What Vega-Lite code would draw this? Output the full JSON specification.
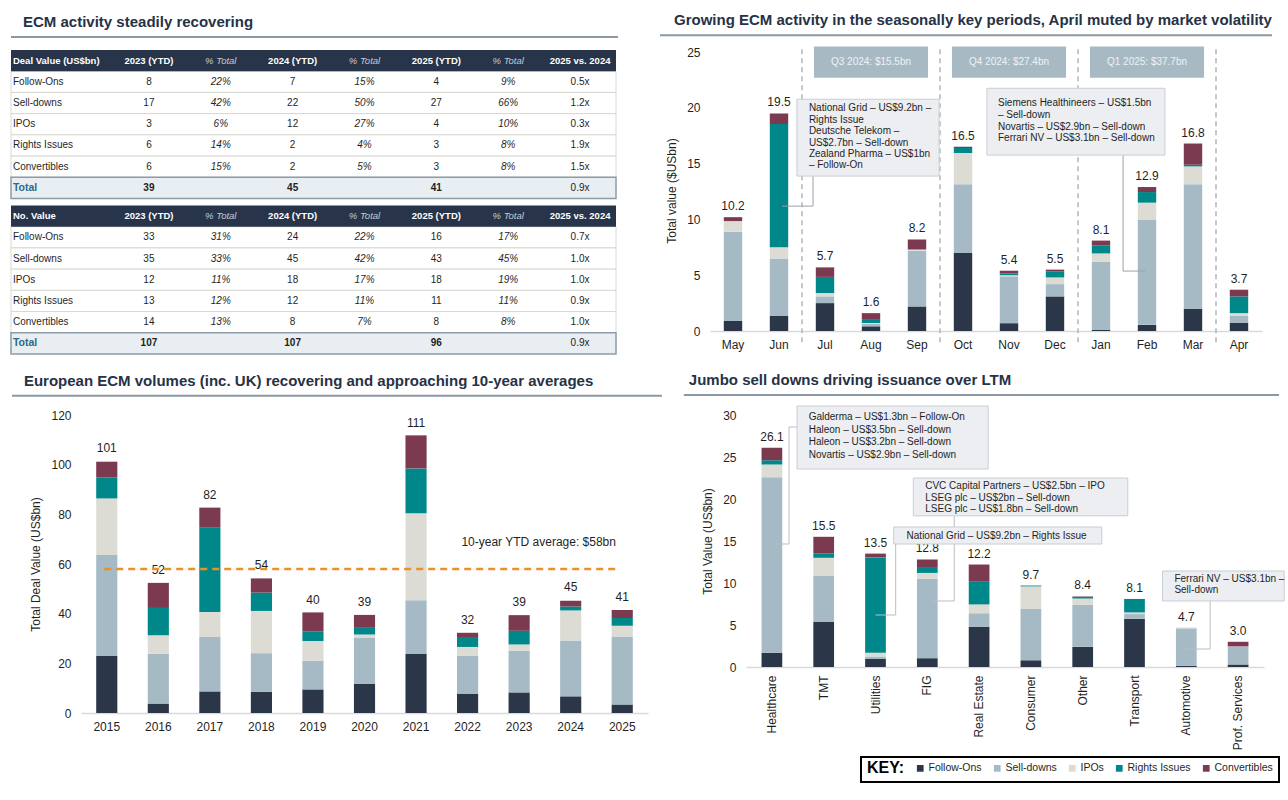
{
"$schema": "https://vega.github.io/schema/vega-lite/v6.json",
"background": "#ffffff",
"padding": {"left": 10, "top": 13, "right": 0, "bottom": 0},
"config": {
  "font": "Liberation Sans",
  "view": {"stroke": null},
  "title": {"fontSize": 15, "fontWeight": "bold", "color": "#263246", "anchor": "start", "offset": 6},
  "axis": {"labelFontSize": 12, "labelColor": "#1f1f1f", "titleFontSize": 12, "titleFontWeight": "normal", "titleColor": "#1f1f1f", "grid": false, "ticks": false, "domain": false, "labelPadding": 10},
  "axisX": {"domain": true, "domainColor": "#d9d9d9", "domainWidth": 1.5, "labelAngle": 0, "labelPadding": 8},
  "legend": {"strokeWidth": 2}
},
"datasets": {
  "types": [{"type": "Follow-Ons", "rank": 1}, {"type": "Sell-downs", "rank": 2}, {"type": "IPOs", "rank": 3}, {"type": "Rights Issues", "rank": 4}, {"type": "Convertibles", "rank": 5}],
  "table": [
    {"t": "t1", "r": "h", "name": "Deal Value (US$bn)", "y23": "2023 (YTD)", "p23": "% Total", "y24": "2024 (YTD)", "p24": "% Total", "y25": "2025 (YTD)", "p25": "% Total", "vs": "2025 vs. 2024"},
    {"t": "t1", "r": "Follow-Ons", "name": "Follow-Ons", "y23": "8", "p23": "22%", "y24": "7", "p24": "15%", "y25": "4", "p25": "9%", "vs": "0.5x"},
    {"t": "t1", "r": "Sell-downs", "name": "Sell-downs", "y23": "17", "p23": "42%", "y24": "22", "p24": "50%", "y25": "27", "p25": "66%", "vs": "1.2x"},
    {"t": "t1", "r": "IPOs", "name": "IPOs", "y23": "3", "p23": "6%", "y24": "12", "p24": "27%", "y25": "4", "p25": "10%", "vs": "0.3x"},
    {"t": "t1", "r": "Rights Issues", "name": "Rights Issues", "y23": "6", "p23": "14%", "y24": "2", "p24": "4%", "y25": "3", "p25": "8%", "vs": "1.9x"},
    {"t": "t1", "r": "Convertibles", "name": "Convertibles", "y23": "6", "p23": "15%", "y24": "2", "p24": "5%", "y25": "3", "p25": "8%", "vs": "1.5x"},
    {"t": "t1", "r": "Total", "name": "Total", "y23": "39", "p23": "", "y24": "45", "p24": "", "y25": "41", "p25": "", "vs": "0.9x"},
    {"t": "t2", "r": "h", "name": "No. Value", "y23": "2023 (YTD)", "p23": "% Total", "y24": "2024 (YTD)", "p24": "% Total", "y25": "2025 (YTD)", "p25": "% Total", "vs": "2025 vs. 2024"},
    {"t": "t2", "r": "Follow-Ons", "name": "Follow-Ons", "y23": "33", "p23": "31%", "y24": "24", "p24": "22%", "y25": "16", "p25": "17%", "vs": "0.7x"},
    {"t": "t2", "r": "Sell-downs", "name": "Sell-downs", "y23": "35", "p23": "33%", "y24": "45", "p24": "42%", "y25": "43", "p25": "45%", "vs": "1.0x"},
    {"t": "t2", "r": "IPOs", "name": "IPOs", "y23": "12", "p23": "11%", "y24": "18", "p24": "17%", "y25": "18", "p25": "19%", "vs": "1.0x"},
    {"t": "t2", "r": "Rights Issues", "name": "Rights Issues", "y23": "13", "p23": "12%", "y24": "12", "p24": "11%", "y25": "11", "p25": "11%", "vs": "0.9x"},
    {"t": "t2", "r": "Convertibles", "name": "Convertibles", "y23": "14", "p23": "13%", "y24": "8", "p24": "7%", "y25": "8", "p25": "8%", "vs": "1.0x"},
    {"t": "t2", "r": "Total", "name": "Total", "y23": "107", "p23": "", "y24": "107", "p24": "", "y25": "96", "p25": "", "vs": "0.9x"}
  ],
  "monthly": [
    {"m": "May", "total": 10.2, "Follow-Ons": 0.9, "Sell-downs": 8.0, "IPOs": 0.95, "Rights Issues": 0, "Convertibles": 0.35},
    {"m": "Jun", "total": 19.5, "Follow-Ons": 1.35, "Sell-downs": 5.15, "IPOs": 1.0, "Rights Issues": 11.05, "Convertibles": 0.95},
    {"m": "Jul", "total": 5.7, "Follow-Ons": 2.5, "Sell-downs": 0.6, "IPOs": 0.3, "Rights Issues": 1.45, "Convertibles": 0.85},
    {"m": "Aug", "total": 1.6, "Follow-Ons": 0.42, "Sell-downs": 0.24, "IPOs": 0.06, "Rights Issues": 0.28, "Convertibles": 0.6},
    {"m": "Sep", "total": 8.2, "Follow-Ons": 2.2, "Sell-downs": 5.0, "IPOs": 0.1, "Rights Issues": 0, "Convertibles": 0.9},
    {"m": "Oct", "total": 16.5, "Follow-Ons": 7.0, "Sell-downs": 6.15, "IPOs": 2.8, "Rights Issues": 0.45, "Convertibles": 0.1},
    {"m": "Nov", "total": 5.4, "Follow-Ons": 0.7, "Sell-downs": 4.2, "IPOs": 0.1, "Rights Issues": 0.15, "Convertibles": 0.25},
    {"m": "Dec", "total": 5.5, "Follow-Ons": 3.1, "Sell-downs": 1.1, "IPOs": 0.6, "Rights Issues": 0.55, "Convertibles": 0.15},
    {"m": "Jan", "total": 8.1, "Follow-Ons": 0.1, "Sell-downs": 6.1, "IPOs": 0.75, "Rights Issues": 0.7, "Convertibles": 0.45},
    {"m": "Feb", "total": 12.9, "Follow-Ons": 0.55, "Sell-downs": 9.4, "IPOs": 1.55, "Rights Issues": 0.95, "Convertibles": 0.45},
    {"m": "Mar", "total": 16.8, "Follow-Ons": 2.0, "Sell-downs": 11.15, "IPOs": 1.6, "Rights Issues": 0.15, "Convertibles": 1.9},
    {"m": "Apr", "total": 3.7, "Follow-Ons": 0.75, "Sell-downs": 0.6, "IPOs": 0.25, "Rights Issues": 1.5, "Convertibles": 0.6}
  ],
  "quarters": [
    {"q": "Q3 2024: $15.5bn", "m1": "Jul", "m2": "Aug", "m3": "Sep"},
    {"q": "Q4 2024: $27.4bn", "m1": "Oct", "m2": "Nov", "m3": "Dec"},
    {"q": "Q1 2025: $37.7bn", "m1": "Jan", "m2": "Feb", "m3": "Mar"}
  ],
  "annual": [
    {"yr": "2015", "total": 101, "Follow-Ons": 23, "Sell-downs": 40.6, "IPOs": 22.8, "Rights Issues": 8.4, "Convertibles": 6.4},
    {"yr": "2016", "total": 52, "Follow-Ons": 3.8, "Sell-downs": 20, "IPOs": 7.5, "Rights Issues": 11, "Convertibles": 10.1},
    {"yr": "2017", "total": 82, "Follow-Ons": 8.7, "Sell-downs": 21.9, "IPOs": 10.1, "Rights Issues": 33.9, "Convertibles": 8.1},
    {"yr": "2018", "total": 54, "Follow-Ons": 8.5, "Sell-downs": 15.6, "IPOs": 17, "Rights Issues": 7.4, "Convertibles": 5.7},
    {"yr": "2019", "total": 40, "Follow-Ons": 9.5, "Sell-downs": 11.6, "IPOs": 7.9, "Rights Issues": 3.9, "Convertibles": 7.6},
    {"yr": "2020", "total": 39, "Follow-Ons": 11.8, "Sell-downs": 18.6, "IPOs": 1.2, "Rights Issues": 2.7, "Convertibles": 5.2},
    {"yr": "2021", "total": 111, "Follow-Ons": 23.8, "Sell-downs": 21.6, "IPOs": 35, "Rights Issues": 18.1, "Convertibles": 13.3},
    {"yr": "2022", "total": 32, "Follow-Ons": 7.8, "Sell-downs": 15.2, "IPOs": 3.6, "Rights Issues": 4.0, "Convertibles": 1.7},
    {"yr": "2023", "total": 39, "Follow-Ons": 8.3, "Sell-downs": 16.8, "IPOs": 2.5, "Rights Issues": 5.5, "Convertibles": 6.3},
    {"yr": "2024", "total": 45, "Follow-Ons": 6.7, "Sell-downs": 22.5, "IPOs": 12.1, "Rights Issues": 1.6, "Convertibles": 2.3},
    {"yr": "2025", "total": 41, "Follow-Ons": 3.4, "Sell-downs": 27.4, "IPOs": 4.3, "Rights Issues": 3.2, "Convertibles": 3.2}
  ],
  "sector": [
    {"s": "Healthcare", "total": 26.1, "Follow-Ons": 1.7, "Sell-downs": 20.9, "IPOs": 1.5, "Rights Issues": 0.5, "Convertibles": 1.5},
    {"s": "TMT", "total": 15.5, "Follow-Ons": 5.35, "Sell-downs": 5.55, "IPOs": 2.1, "Rights Issues": 0.5, "Convertibles": 2.0},
    {"s": "Utilities", "total": 13.5, "Follow-Ons": 0.95, "Sell-downs": 0.3, "IPOs": 0.45, "Rights Issues": 11.35, "Convertibles": 0.45},
    {"s": "FIG", "total": 12.8, "Follow-Ons": 1.05, "Sell-downs": 9.45, "IPOs": 0.7, "Rights Issues": 0.6, "Convertibles": 1.0},
    {"s": "Real Estate", "total": 12.2, "Follow-Ons": 4.8, "Sell-downs": 1.6, "IPOs": 1.05, "Rights Issues": 2.7, "Convertibles": 2.05},
    {"s": "Consumer", "total": 9.7, "Follow-Ons": 0.8, "Sell-downs": 6.1, "IPOs": 2.7, "Rights Issues": 0.1, "Convertibles": 0},
    {"s": "Other", "total": 8.4, "Follow-Ons": 2.4, "Sell-downs": 5.0, "IPOs": 0.75, "Rights Issues": 0.2, "Convertibles": 0.05},
    {"s": "Transport", "total": 8.1, "Follow-Ons": 5.75, "Sell-downs": 0.55, "IPOs": 0.2, "Rights Issues": 1.6, "Convertibles": 0},
    {"s": "Automotive", "total": 4.7, "Follow-Ons": 0.15, "Sell-downs": 4.45, "IPOs": 0.1, "Rights Issues": 0, "Convertibles": 0},
    {"s": "Prof. Services", "total": 3.0, "Follow-Ons": 0.3, "Sell-downs": 2.1, "IPOs": 0.05, "Rights Issues": 0, "Convertibles": 0.55}
  ]
},
"concat": [
  {"concat": [
    {
      "title": {"text": "ECM activity steadily recovering", "frame": "bounds", "dx": 13},
      "width": 535, "height": 304,
      "data": {"name": "table"},
      "layer": [
        {"transform": [{"filter": {"field": "r", "oneOf": ["Follow-Ons", "Sell-downs", "IPOs", "Rights Issues", "Convertibles"]}}],
         "mark": {"type": "rect", "fill": "#ffffff", "stroke": "#d8d8d2", "strokeWidth": 1},
         "encoding": {
           "x": {"datum": "y23", "bandPosition": -1.4195, "type": "nominal", "scale": {"type": "band", "domain": ["y23", "p23", "y24", "p24", "y25", "p25", "vs"], "paddingInner": 0, "paddingOuter": 0.2227, "align": 1}, "axis": null},
           "x2": {"datum": "vs", "bandPosition": 1},
           "y": {"field": "t", "type": "nominal", "scale": {"domain": ["t1", "t2"], "paddingInner": 0.045, "paddingOuter": 0}, "axis": null},
           "yOffset": {"field": "r", "type": "nominal", "scale": {"domain": ["h", "Follow-Ons", "Sell-downs", "IPOs", "Rights Issues", "Convertibles", "Total"], "paddingInner": 0, "paddingOuter": 0}}}},
        {"transform": [{"filter": {"field": "r", "equal": "h"}}],
         "mark": {"type": "rect", "fill": "#27344a"},
         "encoding": {"x": {"datum": "y23", "bandPosition": -1.4195}, "x2": {"datum": "vs", "bandPosition": 1}, "y": {"field": "t", "type": "nominal"}, "yOffset": {"field": "r", "type": "nominal"}}},
        {"transform": [{"filter": {"field": "r", "equal": "Total"}}],
         "mark": {"type": "rect", "fill": "#e8eef1", "stroke": "#8d9ca8", "strokeWidth": 1.5},
         "encoding": {"x": {"datum": "y23", "bandPosition": -1.4195}, "x2": {"datum": "vs", "bandPosition": 1}, "y": {"field": "t", "type": "nominal"}, "yOffset": {"field": "r", "type": "nominal"}}},
        {"data": {"values": [{}]},
         "mark": {"type": "rule", "color": "#8c99a5", "strokeWidth": 2},
         "encoding": {"x": {"datum": "y23", "bandPosition": -1.4195}, "x2": {"datum": "vs", "bandPosition": 1.028}, "y": {"datum": "t1", "bandPosition": -0.0875}}},
        {"transform": [{"filter": {"field": "r", "equal": "h"}}],
         "mark": {"type": "text", "align": "left", "baseline": "middle", "fontSize": 9.5, "fontWeight": "bold", "color": "#ffffff"},
         "encoding": {"x": {"datum": "y23", "bandPosition": -1.392}, "y": {"field": "t", "type": "nominal"}, "yOffset": {"field": "r", "type": "nominal"}, "text": {"field": "name"}}},
        {"transform": [{"filter": {"field": "r", "oneOf": ["Follow-Ons", "Sell-downs", "IPOs", "Rights Issues", "Convertibles"]}}],
         "mark": {"type": "text", "align": "left", "baseline": "middle", "fontSize": 10, "color": "#1f1f1f"},
         "encoding": {"x": {"datum": "y23", "bandPosition": -1.392}, "y": {"field": "t", "type": "nominal"}, "yOffset": {"field": "r", "type": "nominal"}, "text": {"field": "name"}}},
        {"transform": [{"filter": {"field": "r", "equal": "Total"}}],
         "mark": {"type": "text", "align": "left", "baseline": "middle", "fontSize": 10.5, "fontWeight": "bold", "color": "#2b6a8a"},
         "encoding": {"x": {"datum": "y23", "bandPosition": -1.392}, "y": {"field": "t", "type": "nominal"}, "yOffset": {"field": "r", "type": "nominal"}, "text": {"field": "name"}}},
        {"transform": [{"fold": ["y23", "p23", "y24", "p24", "y25", "p25", "vs"], "as": ["c", "txt"]}, {"filter": {"and": [{"field": "r", "equal": "h"}, {"field": "c", "oneOf": ["y23", "y24", "y25", "vs"]}]}}],
         "mark": {"type": "text", "align": "center", "baseline": "middle", "fontSize": 9.5, "fontWeight": "bold", "color": "#ffffff"},
         "encoding": {"x": {"field": "c", "type": "nominal"}, "y": {"field": "t", "type": "nominal"}, "yOffset": {"field": "r", "type": "nominal"}, "text": {"field": "txt"}}},
        {"transform": [{"fold": ["y23", "p23", "y24", "p24", "y25", "p25", "vs"], "as": ["c", "txt"]}, {"filter": {"and": [{"field": "r", "equal": "h"}, {"field": "c", "oneOf": ["p23", "p24", "p25"]}]}}],
         "mark": {"type": "text", "align": "center", "baseline": "middle", "fontSize": 9.5, "fontStyle": "italic", "color": "#c3ccd5"},
         "encoding": {"x": {"field": "c", "type": "nominal"}, "y": {"field": "t", "type": "nominal"}, "yOffset": {"field": "r", "type": "nominal"}, "text": {"field": "txt"}}},
        {"transform": [{"fold": ["y23", "p23", "y24", "p24", "y25", "p25", "vs"], "as": ["c", "txt"]}, {"filter": {"and": [{"field": "r", "oneOf": ["Follow-Ons", "Sell-downs", "IPOs", "Rights Issues", "Convertibles"]}, {"field": "c", "oneOf": ["y23", "y24", "y25", "vs"]}]}}],
         "mark": {"type": "text", "align": "center", "baseline": "middle", "fontSize": 10, "color": "#1f1f1f"},
         "encoding": {"x": {"field": "c", "type": "nominal"}, "y": {"field": "t", "type": "nominal"}, "yOffset": {"field": "r", "type": "nominal"}, "text": {"field": "txt"}}},
        {"transform": [{"fold": ["y23", "p23", "y24", "p24", "y25", "p25", "vs"], "as": ["c", "txt"]}, {"filter": {"and": [{"field": "r", "oneOf": ["Follow-Ons", "Sell-downs", "IPOs", "Rights Issues", "Convertibles"]}, {"field": "c", "oneOf": ["p23", "p24", "p25"]}]}}],
         "mark": {"type": "text", "align": "center", "baseline": "middle", "fontSize": 10, "fontStyle": "italic", "color": "#1f1f1f"},
         "encoding": {"x": {"field": "c", "type": "nominal"}, "y": {"field": "t", "type": "nominal"}, "yOffset": {"field": "r", "type": "nominal"}, "text": {"field": "txt"}}},
        {"transform": [{"fold": ["y23", "p23", "y24", "p24", "y25", "p25", "vs"], "as": ["c", "txt"]}, {"filter": {"and": [{"field": "r", "equal": "Total"}, {"field": "c", "oneOf": ["y23", "y24", "y25"]}]}}],
         "mark": {"type": "text", "align": "center", "baseline": "middle", "fontSize": 10, "fontWeight": "bold", "color": "#1f1f1f"},
         "encoding": {"x": {"field": "c", "type": "nominal"}, "y": {"field": "t", "type": "nominal"}, "yOffset": {"field": "r", "type": "nominal"}, "text": {"field": "txt"}}},
        {"transform": [{"fold": ["y23", "p23", "y24", "p24", "y25", "p25", "vs"], "as": ["c", "txt"]}, {"filter": {"and": [{"field": "r", "equal": "Total"}, {"field": "c", "equal": "vs"}]}}],
         "mark": {"type": "text", "align": "center", "baseline": "middle", "fontSize": 10, "color": "#1f1f1f"},
         "encoding": {"x": {"field": "c", "type": "nominal"}, "y": {"field": "t", "type": "nominal"}, "yOffset": {"field": "r", "type": "nominal"}, "text": {"field": "txt"}}}
      ]
    },
    {
      "title": {"text": "Growing ECM activity in the seasonally key periods, April muted by market volatility", "frame": "bounds", "dx": 15},
      "width": 552, "height": 281,
      "data": {"name": "monthly"},
      "layer": [
        {"transform": [{"fold": ["Follow-Ons", "Sell-downs", "IPOs", "Rights Issues", "Convertibles"], "as": ["type", "value"]}, {"lookup": "type", "from": {"data": {"name": "types"}, "key": "type", "fields": ["rank"]}}],
         "mark": {"type": "bar", "width": {"band": 0.4}},
         "encoding": {
           "x": {"field": "m", "type": "nominal", "scale": {"domain": ["May", "Jun", "Jul", "Aug", "Sep", "Oct", "Nov", "Dec", "Jan", "Feb", "Mar", "Apr"], "paddingInner": 0, "paddingOuter": 0}, "axis": {"title": null}},
           "y": {"field": "value", "type": "quantitative", "stack": "zero", "scale": {"domain": [0, 25.18], "nice": false}, "axis": {"values": [0, 5, 10, 15, 20, 25], "title": "Total value ($USbn)", "titlePadding": 8}},
           "color": {"field": "type", "type": "nominal", "scale": {"domain": ["Follow-Ons", "Sell-downs", "IPOs", "Rights Issues", "Convertibles"], "range": ["#2b3648", "#a5bac5", "#dcdcd5", "#00878a", "#7b3a4f"]},
             "legend": {"title": "KEY:", "orient": "none", "legendX": 780, "legendY": 707, "direction": "horizontal", "titleOrient": "left", "titleFontSize": 16, "titleFontWeight": "bold", "titleColor": "#000000", "titlePadding": 10, "symbolType": "square", "symbolSize": 45, "symbolStrokeWidth": 0, "labelFontSize": 10.5, "labelColor": "#1f1f1f", "labelOffset": 3, "columnPadding": 10, "strokeColor": "#000000", "padding": 6, "fillColor": "#ffffff"}},
           "order": {"field": "rank", "type": "quantitative"}}},
        {"mark": {"type": "text", "baseline": "bottom", "dy": -4, "fontSize": 12, "color": "#1f1f1f"},
         "encoding": {"x": {"field": "m", "type": "nominal"}, "y": {"field": "total", "type": "quantitative"}, "text": {"field": "total", "type": "quantitative", "format": ".1f"}}},
        {"data": {"values": [{}]}, "mark": {"type": "rule", "color": "#8c99a5", "strokeWidth": 2},
         "encoding": {"x": {"datum": "May", "bandPosition": -1.087}, "x2": {"datum": "Apr", "bandPosition": 1.217}, "y": {"datum": 26.5}}},
        {"data": {"values": [{"m": "Jul"}, {"m": "Oct"}, {"m": "Jan"}, {"m": "Apr"}]},
         "mark": {"type": "rule", "color": "#b5b5b5", "strokeWidth": 1.5, "strokeDash": [5, 4]},
         "encoding": {"x": {"field": "m", "type": "nominal", "bandPosition": 0}, "y": {"datum": -1.0}, "y2": {"datum": 25.6}}},
        {"data": {"name": "quarters"}, "mark": {"type": "rect", "fill": "#a7bac4"},
         "encoding": {"x": {"field": "m1", "type": "nominal", "bandPosition": 0.26}, "x2": {"field": "m3", "bandPosition": 0.74}, "y": {"datum": 22.7}, "y2": {"datum": 25.5}}},
        {"data": {"name": "quarters"}, "mark": {"type": "text", "fontSize": 10, "color": "#eef2f5", "baseline": "middle"},
         "encoding": {"x": {"field": "m2", "type": "nominal"}, "y": {"datum": 24.1}, "text": {"field": "q"}}},
        {"data": {"values": [{}]}, "mark": {"type": "rule", "color": "#9aa3ab", "strokeWidth": 1},
         "encoding": {"x": {"datum": "Jul", "bandPosition": 0.24}, "y": {"datum": 13.88}, "y2": {"datum": 11.19}}},
        {"data": {"values": [{}]}, "mark": {"type": "rule", "color": "#9aa3ab", "strokeWidth": 1},
         "encoding": {"x": {"datum": "Jun", "bandPosition": 0.565}, "x2": {"datum": "Jul", "bandPosition": 0.24}, "y": {"datum": 11.19}}},
        {"data": {"values": [{}]}, "mark": {"type": "rule", "color": "#9aa3ab", "strokeWidth": 1},
         "encoding": {"x": {"datum": "Jan", "bandPosition": 0.98}, "y": {"datum": 15.76}, "y2": {"datum": 5.37}}},
        {"data": {"values": [{}]}, "mark": {"type": "rule", "color": "#9aa3ab", "strokeWidth": 1},
         "encoding": {"x": {"datum": "Jan", "bandPosition": 0.98}, "x2": {"datum": "Feb", "bandPosition": 0.46}, "y": {"datum": 5.37}}},
        {"data": {"values": [{}]}, "mark": {"type": "rect", "fill": "#eceef1", "stroke": "#c9ced4", "strokeWidth": 1},
         "encoding": {"x": {"datum": "Jun", "bandPosition": 0.89}, "x2": {"datum": "Sep", "bandPosition": 0.98}, "y": {"datum": 20.77}, "y2": {"datum": 13.88}}},
        {"data": {"values": [{}]}, "mark": {"type": "text", "align": "left", "baseline": "top", "fontSize": 10, "lineHeight": 11.4, "color": "#1f1f1f"},
         "encoding": {"x": {"datum": "Jun", "bandPosition": 1.15}, "y": {"datum": 20.4}, "text": {"value": ["National Grid – US$9.2bn –", "Rights Issue", "Deutsche Telekom –", "US$2.7bn – Sell-down", "Zealand Pharma – US$1bn", "– Follow-On"]}}},
        {"data": {"values": [{}]}, "mark": {"type": "rect", "fill": "#eceef1", "stroke": "#c9ced4", "strokeWidth": 1},
         "encoding": {"x": {"datum": "Nov", "bandPosition": 0.02}, "x2": {"datum": "Feb", "bandPosition": 0.89}, "y": {"datum": 21.75}, "y2": {"datum": 15.76}}},
        {"data": {"values": [{}]}, "mark": {"type": "text", "align": "left", "baseline": "top", "fontSize": 10, "lineHeight": 11.7, "color": "#1f1f1f"},
         "encoding": {"x": {"datum": "Nov", "bandPosition": 0.26}, "y": {"datum": 20.86}, "text": {"value": ["Siemens Healthineers – US$1.5bn", "– Sell-down", "Novartis – US$2.9bn – Sell-down", "Ferrari NV – US$3.1bn – Sell-down"]}}}
      ]
    }
  ], "columns": 2, "align": "none", "spacing": 38},
  {"concat": [
    {
      "title": {"text": "European ECM volumes (inc. UK) recovering and approaching 10-year averages", "frame": "bounds", "dx": 13},
      "width": 567, "height": 298,
      "data": {"name": "annual"},
      "layer": [
        {"transform": [{"fold": ["Follow-Ons", "Sell-downs", "IPOs", "Rights Issues", "Convertibles"], "as": ["type", "value"]}, {"lookup": "type", "from": {"data": {"name": "types"}, "key": "type", "fields": ["rank"]}}],
         "mark": {"type": "bar", "width": {"band": 0.41}},
         "encoding": {
           "x": {"field": "yr", "type": "nominal", "scale": {"domain": ["2015", "2016", "2017", "2018", "2019", "2020", "2021", "2022", "2023", "2024", "2025"], "paddingInner": 0, "paddingOuter": 0}, "axis": {"title": null}},
           "y": {"field": "value", "type": "quantitative", "stack": "zero", "scale": {"domain": [0, 120], "nice": false}, "axis": {"values": [0, 20, 40, 60, 80, 100, 120], "title": "Total Deal Value (US$bn)", "titlePadding": 8}},
           "color": {"field": "type", "type": "nominal", "scale": {"domain": ["Follow-Ons", "Sell-downs", "IPOs", "Rights Issues", "Convertibles"], "range": ["#2b3648", "#a5bac5", "#dcdcd5", "#00878a", "#7b3a4f"]}},
           "order": {"field": "rank", "type": "quantitative"}}},
        {"mark": {"type": "text", "baseline": "bottom", "dy": -7, "fontSize": 12, "color": "#1f1f1f"},
         "encoding": {"x": {"field": "yr", "type": "nominal"}, "y": {"field": "total", "type": "quantitative"}, "text": {"field": "total", "type": "quantitative", "format": "d"}}},
        {"data": {"values": [{}]}, "mark": {"type": "rule", "color": "#e8902a", "strokeWidth": 2.5, "strokeDash": [7, 5]},
         "encoding": {"x": {"datum": "2015", "bandPosition": 0.45}, "x2": {"datum": "2025", "bandPosition": 0.45}, "y": {"datum": 58}}},
        {"data": {"values": [{}]}, "mark": {"type": "text", "align": "left", "baseline": "middle", "fontSize": 12, "color": "#1f1f1f"},
         "encoding": {"x": {"datum": "2022", "bandPosition": 0.38}, "y": {"datum": 68.9}, "text": {"value": "10-year YTD average: $58bn"}}},
        {"data": {"values": [{}]}, "mark": {"type": "rule", "color": "#8c99a5", "strokeWidth": 2},
         "encoding": {"x": {"datum": "2015", "bandPosition": -1.34}, "x2": {"datum": "2025", "bandPosition": 1.27}, "y": {"datum": 127.8}}}
      ]
    },
    {
      "title": {"text": "Jumbo sell downs driving issuance over LTM", "frame": "bounds", "dx": 6},
      "width": 518, "height": 252,
      "data": {"name": "sector"},
      "layer": [
        {"transform": [{"fold": ["Follow-Ons", "Sell-downs", "IPOs", "Rights Issues", "Convertibles"], "as": ["type", "value"]}, {"lookup": "type", "from": {"data": {"name": "types"}, "key": "type", "fields": ["rank"]}}],
         "mark": {"type": "bar", "width": {"band": 0.4}},
         "encoding": {
           "x": {"field": "s", "type": "nominal", "scale": {"domain": ["Healthcare", "TMT", "Utilities", "FIG", "Real Estate", "Consumer", "Other", "Transport", "Automotive", "Prof. Services"], "paddingInner": 0, "paddingOuter": 0}, "axis": {"title": null, "labelAngle": -90}},
           "y": {"field": "value", "type": "quantitative", "stack": "zero", "scale": {"domain": [0, 30], "nice": false}, "axis": {"values": [0, 5, 10, 15, 20, 25, 30], "title": "Total Value (US$bn)", "titlePadding": 8}},
           "color": {"field": "type", "type": "nominal", "scale": {"domain": ["Follow-Ons", "Sell-downs", "IPOs", "Rights Issues", "Convertibles"], "range": ["#2b3648", "#a5bac5", "#dcdcd5", "#00878a", "#7b3a4f"]}},
           "order": {"field": "rank", "type": "quantitative"}}},
        {"mark": {"type": "text", "baseline": "bottom", "dy": -4, "fontSize": 12, "color": "#1f1f1f"},
         "encoding": {"x": {"field": "s", "type": "nominal"}, "y": {"field": "total", "type": "quantitative"}, "text": {"field": "total", "type": "quantitative", "format": ".1f"}}},
        {"data": {"values": [{}]}, "mark": {"type": "rule", "color": "#8c99a5", "strokeWidth": 2},
         "encoding": {"x": {"datum": "Healthcare", "bandPosition": -1.2}, "x2": {"datum": "Prof. Services", "bandPosition": 1.29}, "y": {"datum": 32.38}}},
        {"data": {"values": [{}]}, "mark": {"type": "rule", "color": "#b9bec4", "strokeWidth": 1},
         "encoding": {"x": {"datum": "Healthcare", "bandPosition": 0.83}, "x2": {"datum": "Healthcare", "bandPosition": 0.985}, "y": {"datum": 28.57}}},
        {"data": {"values": [{}]}, "mark": {"type": "rule", "color": "#b9bec4", "strokeWidth": 1},
         "encoding": {"x": {"datum": "Healthcare", "bandPosition": 0.83}, "y": {"datum": 28.57}, "y2": {"datum": 14.64}}},
        {"data": {"values": [{}]}, "mark": {"type": "rule", "color": "#b9bec4", "strokeWidth": 1},
         "encoding": {"x": {"datum": "Healthcare", "bandPosition": 0.58}, "x2": {"datum": "Healthcare", "bandPosition": 0.83}, "y": {"datum": 14.64}}},
        {"data": {"values": [{}]}, "mark": {"type": "rule", "color": "#b9bec4", "strokeWidth": 1},
         "encoding": {"x": {"datum": "Real Estate", "bandPosition": 0.02}, "y": {"datum": 18.0}, "y2": {"datum": 7.86}}},
        {"data": {"values": [{}]}, "mark": {"type": "rule", "color": "#b9bec4", "strokeWidth": 1},
         "encoding": {"x": {"datum": "FIG", "bandPosition": 0.6}, "x2": {"datum": "Real Estate", "bandPosition": 0.02}, "y": {"datum": 7.86}}},
        {"data": {"values": [{}]}, "mark": {"type": "rule", "color": "#b9bec4", "strokeWidth": 1},
         "encoding": {"x": {"datum": "Utilities", "bandPosition": 0.89}, "y": {"datum": 14.64}, "y2": {"datum": 6.19}}},
        {"data": {"values": [{}]}, "mark": {"type": "rule", "color": "#b9bec4", "strokeWidth": 1},
         "encoding": {"x": {"datum": "Utilities", "bandPosition": 0.5}, "x2": {"datum": "Utilities", "bandPosition": 0.89}, "y": {"datum": 6.19}}},
        {"data": {"values": [{}]}, "mark": {"type": "rule", "color": "#b9bec4", "strokeWidth": 1},
         "encoding": {"x": {"datum": "Automotive", "bandPosition": 0.96}, "y": {"datum": 7.86}, "y2": {"datum": 2.14}}},
        {"data": {"values": [{}]}, "mark": {"type": "rule", "color": "#b9bec4", "strokeWidth": 1},
         "encoding": {"x": {"datum": "Automotive", "bandPosition": 0.42}, "x2": {"datum": "Automotive", "bandPosition": 0.96}, "y": {"datum": 2.14}}},
        {"data": {"values": [{}]}, "mark": {"type": "rect", "fill": "#eceef1", "stroke": "#c9ced4", "strokeWidth": 1},
         "encoding": {"x": {"datum": "Healthcare", "bandPosition": 0.985}, "x2": {"datum": "Real Estate", "bandPosition": 0.676}, "y": {"datum": 31.07}, "y2": {"datum": 23.57}}},
        {"data": {"values": [{}]}, "mark": {"type": "text", "align": "left", "baseline": "top", "fontSize": 10, "lineHeight": 12.7, "color": "#1f1f1f"},
         "encoding": {"x": {"datum": "TMT", "bandPosition": 0.21}, "y": {"datum": 30.36}, "text": {"value": ["Galderma – US$1.3bn – Follow-On", "Haleon – US$3.5bn – Sell-down", "Haleon – US$3.2bn – Sell-down", "Novartis – US$2.9bn – Sell-down"]}}},
        {"data": {"values": [{}]}, "mark": {"type": "rect", "fill": "#eceef1", "stroke": "#c9ced4", "strokeWidth": 1},
         "encoding": {"x": {"datum": "FIG", "bandPosition": 0.23}, "x2": {"datum": "Transport", "bandPosition": 0.37}, "y": {"datum": 22.5}, "y2": {"datum": 18.0}}},
        {"data": {"values": [{}]}, "mark": {"type": "text", "align": "left", "baseline": "top", "fontSize": 10, "lineHeight": 11.5, "color": "#1f1f1f"},
         "encoding": {"x": {"datum": "FIG", "bandPosition": 0.46}, "y": {"datum": 22.14}, "text": {"value": ["CVC Capital Partners – US$2.5bn – IPO", "LSEG plc – US$2bn – Sell-down", "LSEG plc – US$1.8bn – Sell-down"]}}},
        {"data": {"values": [{}]}, "mark": {"type": "rect", "fill": "#eceef1", "stroke": "#c9ced4", "strokeWidth": 1},
         "encoding": {"x": {"datum": "Utilities", "bandPosition": 0.85}, "x2": {"datum": "Other", "bandPosition": 0.87}, "y": {"datum": 16.67}, "y2": {"datum": 14.64}}},
        {"data": {"values": [{}]}, "mark": {"type": "text", "align": "left", "baseline": "middle", "fontSize": 10, "color": "#1f1f1f"},
         "encoding": {"x": {"datum": "FIG", "bandPosition": 0.1}, "y": {"datum": 15.65}, "text": {"value": "National Grid – US$9.2bn – Rights Issue"}}},
        {"data": {"values": [{}]}, "mark": {"type": "rect", "fill": "#eceef1", "stroke": "#c9ced4", "strokeWidth": 1},
         "encoding": {"x": {"datum": "Automotive", "bandPosition": 0.04}, "x2": {"datum": "Prof. Services", "bandPosition": 1.39}, "y": {"datum": 11.43}, "y2": {"datum": 7.86}}},
        {"data": {"values": [{}]}, "mark": {"type": "text", "align": "left", "baseline": "top", "fontSize": 10, "lineHeight": 11, "color": "#1f1f1f"},
         "encoding": {"x": {"datum": "Automotive", "bandPosition": 0.27}, "y": {"datum": 11.07}, "text": {"value": ["Ferrari NV – US$3.1bn –", "Sell-down"]}}}
      ]
    }
  ], "columns": 2, "align": "none", "spacing": 19}
],
"columns": 1,
"align": "none",
"spacing": 18
}
